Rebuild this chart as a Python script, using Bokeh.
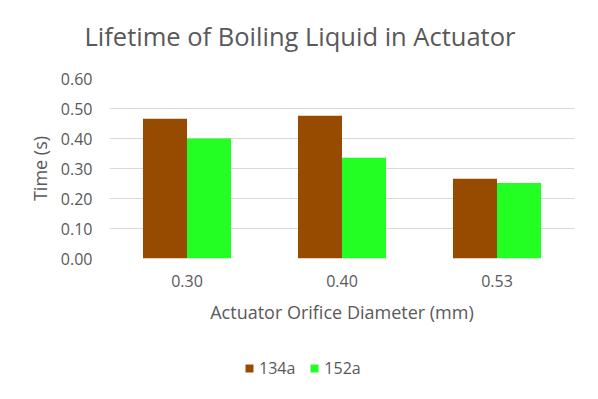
from bokeh.plotting import figure
from bokeh.layouts import column
from bokeh.models import (ColumnDataSource, FactorRange, Range1d, FixedTicker,
                          NumeralTickFormatter, Legend, LegendItem, Title)
from bokeh.transform import dodge
from bokeh.embed import file_html
from bokeh.resources import INLINE

# ---- data ----
categories = ["0.30", "0.40", "0.53"]
series_134a = [0.466, 0.476, 0.266]
series_152a = [0.400, 0.336, 0.252]
y_ticks = [0.0, 0.1, 0.2, 0.3, 0.4, 0.5, 0.6]
series_names = ["134a", "152a"]
title_text = "Lifetime of Boiling Liquid in Actuator"

FONT = "Open Sans"
TXT = "#595959"
GRID = "#d9d9d9"
C1 = "#964B00"
C2 = "#23FF23"

src = ColumnDataSource(dict(cat=categories, a=series_134a, b=series_152a))
x_range = FactorRange(factors=categories, range_padding=0)

# ---- title strip ----
pt = figure(x_range=x_range, y_range=Range1d(0, 1),
            width=582, height=54, output_backend="svg", toolbar_location=None,
            x_axis_type=None, y_axis_type=None,
            min_border_left=109, min_border_right=8,
            min_border_top=52, min_border_bottom=0)
pt.outline_line_color = None
pt.xgrid.grid_line_color = None
pt.ygrid.grid_line_color = None
pt.title.text = title_text
pt.title.align = "left"
pt.title.offset = -25
pt.title.vertical_align = "bottom"
pt.title.standoff = 0
pt.title.text_font = FONT
pt.title.text_font_size = "25.5px"
pt.title.text_font_style = "normal"
pt.title.text_color = TXT

# ---- main chart ----
p = figure(x_range=x_range, y_range=Range1d(0, 0.6),
           width=582, height=291, output_backend="svg", toolbar_location=None,
           min_border_left=109, min_border_right=8,
           min_border_top=24, min_border_bottom=87)

bw = 0.284
r1 = p.vbar(x=dodge("cat", -bw / 2, range=x_range), top="a", width=bw,
            source=src, fill_color=C1, line_color=None)
r2 = p.vbar(x=dodge("cat", bw / 2, range=x_range), top="b", width=bw,
            source=src, fill_color=C2, line_color=None)

p.outline_line_color = None
p.xgrid.grid_line_color = None
p.ygrid.grid_line_color = GRID
p.ygrid.grid_line_width = 1
p.ygrid.ticker = FixedTicker(ticks=y_ticks)

p.yaxis.ticker = FixedTicker(ticks=y_ticks)
p.yaxis.formatter = NumeralTickFormatter(format="0.00")
for ax in (p.xaxis[0], p.yaxis[0]):
    ax.axis_line_color = None
    ax.major_tick_line_color = None
    ax.minor_tick_line_color = None
    ax.major_tick_out = 0
    ax.major_tick_in = 0
    ax.major_label_text_font = FONT
    ax.major_label_text_font_size = "16px"
    ax.major_label_text_color = TXT
    ax.axis_label_text_font = FONT
    ax.axis_label_text_font_size = "18px"
    ax.axis_label_text_font_style = "normal"
    ax.axis_label_text_color = TXT

p.yaxis.axis_label = "Time (s)"
p.yaxis.major_label_standoff = 17
p.yaxis.axis_label_standoff = 6
p.xaxis.axis_label = "Actuator Orifice Diameter (mm)"
p.xaxis.major_label_standoff = 16
p.xaxis.axis_label_standoff = 10

# ---- legend strip; its bars sit outside its visible y-range ----
p2 = figure(x_range=x_range, y_range=Range1d(10, 11),
            width=582, height=38, output_backend="svg", toolbar_location=None,
            x_axis_type=None, y_axis_type=None,
            min_border_left=109, min_border_right=8,
            min_border_top=0, min_border_bottom=0)
p2.outline_line_color = None
p2.xgrid.grid_line_color = None
p2.ygrid.grid_line_color = None
s1 = p2.vbar(x=dodge("cat", -bw / 2, range=x_range), top="a", width=bw,
             source=src, fill_color=C1, line_color=None)
s2 = p2.vbar(x=dodge("cat", bw / 2, range=x_range), top="b", width=bw,
             source=src, fill_color=C2, line_color=None)

legend = Legend(items=[LegendItem(label=series_names[0], renderers=[s1]),
                       LegendItem(label=series_names[1], renderers=[s2])],
                orientation="horizontal", location=(135, 4),
                label_text_font=FONT, label_text_font_size="16px",
                label_text_color=TXT, glyph_width=10, glyph_height=10,
                label_standoff=5, spacing=14, border_line_color=None,
                background_fill_alpha=0, padding=0, margin=0)
p2.add_layout(legend, "center")

layout = column(pt, p, p2, spacing=0)
open("out.html", "w").write(file_html(layout, INLINE))
